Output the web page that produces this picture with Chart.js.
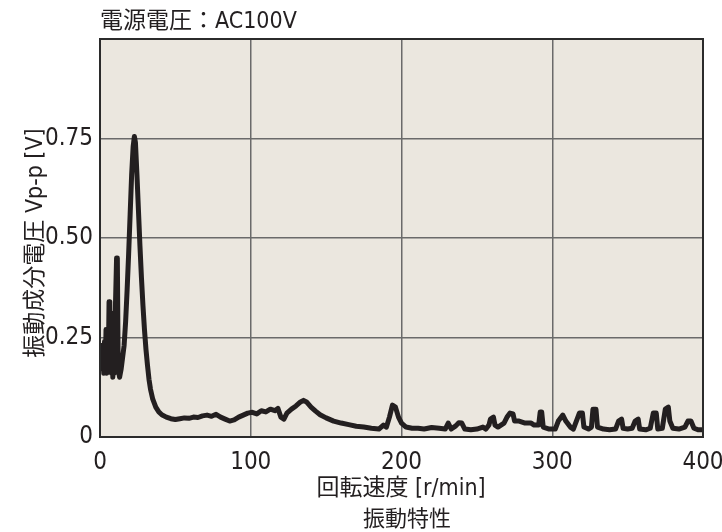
<!DOCTYPE html>
<html>
<head>
<meta charset="utf-8">
<script src="https://cdn.jsdelivr.net/npm/chart.js@4"></script>
<style>
  html, body { margin: 0; padding: 0; background: #fff; }
  #wrap { width: 722px; height: 532px; position: relative; }
</style>
</head>
<body>
<div id="wrap"><canvas id="c" width="722" height="532"></canvas></div>
<script>
// 回転速度 [r/min]
const speeds = [
  0.5, 1, 1.5, 2, 2.5, 3, 3.5, 4, 4.5, 5, 5.5, 6, 6.5, 7, 7.5, 8, 8.5, 9, 9.5, 10,
  11, 11.5, 12, 12.5, 13, 14, 15, 16, 17, 18, 19, 20, 21, 22, 22.8, 23.5, 24.5,
  25.5, 26.5, 27.5, 28.5, 29.5, 30.5, 31.5, 32.5, 33.5, 35, 37, 39, 41, 44, 47,
  50, 53, 56, 59, 62, 65, 68, 71, 74, 77, 80, 83, 86, 89, 92, 95, 98, 101, 104,
  107, 110, 113, 116, 118, 120, 122, 124, 127, 130, 133, 135, 137, 140, 143, 146,
  150, 155, 160, 165, 170, 175, 180, 185, 188, 190, 192, 194, 196, 198, 200, 203,
  207, 211, 215, 220, 225, 229, 231, 233, 236, 238, 240, 242, 246, 250, 254, 256,
  258, 259, 261, 262, 264, 268, 270, 272, 274, 275, 278, 282, 286, 288, 291, 292,
  293, 294, 298, 302, 304, 307, 309, 312, 314, 316, 318, 320, 321, 324, 326, 327,
  329, 330, 334, 338, 342, 344, 346, 347, 350, 353, 355, 357, 358, 362, 365, 367,
  369, 370, 373, 375, 377, 378, 380, 384, 388, 390, 392, 394, 397, 400
];
// 振動成分電圧 Vp-p [V]
const voltages = [
  0.19, 0.23, 0.17, 0.22, 0.16, 0.24, 0.17, 0.27, 0.16, 0.25, 0.18, 0.34, 0.17, 0.27, 0.16, 0.31, 0.15, 0.22, 0.16, 0.29,
  0.45, 0.45, 0.20, 0.16, 0.15, 0.17, 0.20, 0.23, 0.29, 0.37, 0.46, 0.56, 0.66, 0.73, 0.755, 0.74, 0.66,
  0.57, 0.48, 0.40, 0.33, 0.27, 0.22, 0.18, 0.145, 0.12, 0.095, 0.075, 0.063, 0.056, 0.050, 0.046,
  0.044, 0.046, 0.048, 0.047, 0.050, 0.049, 0.053, 0.055, 0.052, 0.057, 0.050, 0.045, 0.040, 0.043, 0.050, 0.055, 0.060, 0.062, 0.058,
  0.066, 0.063, 0.070, 0.066, 0.072, 0.050, 0.045, 0.060, 0.070, 0.078, 0.088, 0.092, 0.088, 0.075, 0.065, 0.056,
  0.048, 0.040, 0.035, 0.031, 0.027, 0.025, 0.022, 0.020, 0.030, 0.025, 0.050, 0.080, 0.075, 0.050, 0.035, 0.025,
  0.022, 0.022, 0.020, 0.024, 0.022, 0.020, 0.035, 0.020, 0.028, 0.036, 0.035, 0.020, 0.018, 0.020, 0.025, 0.020,
  0.030, 0.045, 0.050, 0.030, 0.025, 0.035, 0.050, 0.060, 0.058, 0.040, 0.040, 0.035, 0.035, 0.030, 0.030, 0.063,
  0.063, 0.025, 0.020, 0.020, 0.040, 0.055, 0.040, 0.025, 0.020, 0.040, 0.060, 0.060, 0.025, 0.020, 0.025, 0.070,
  0.070, 0.025, 0.020, 0.018, 0.020, 0.040, 0.045, 0.022, 0.020, 0.022, 0.040, 0.045, 0.020, 0.018, 0.022, 0.060,
  0.060, 0.020, 0.022, 0.070, 0.075, 0.040, 0.022, 0.020, 0.025, 0.040, 0.040, 0.022, 0.018, 0.018
];
const xTicks = [0, 100, 200, 300, 400];
const yTicks = [0, 0.25, 0.5, 0.75];

const topTitle = '電源電圧：AC100V';
const yTitle = '振動成分電圧 Vp-p [V]';
const xTitle = '回転速度 [r/min]';
const caption = '振動特性';

const FONT = "'Liberation Sans Narrow', 'DejaVu Sans Condensed', 'Liberation Sans', 'Noto Sans CJK JP', sans-serif";
const INK = '#231f20';

// 背景・枠・テキストは自前で描く
const decor = {
  id: 'decor',
  beforeDraw(chart) {
    const { ctx, chartArea: a } = chart;
    ctx.save();
    ctx.fillStyle = '#ebe7df';
    ctx.fillRect(a.left, a.top, a.right - a.left, a.bottom - a.top);
    ctx.restore();
  },
  afterDraw(chart) {
    const { ctx, chartArea: a } = chart;
    ctx.save();
    ctx.strokeStyle = '#2b2b2b';
    ctx.lineWidth = 2;
    ctx.strokeRect(a.left, a.top, a.right - a.left, a.bottom - a.top);

    ctx.fillStyle = INK;
    ctx.font = '23px ' + FONT;
    ctx.textAlign = 'left';
    ctx.textBaseline = 'alphabetic';
    ctx.fillText(topTitle, 100, 28);

    ctx.textAlign = 'center';
    ctx.textBaseline = 'middle';
    ctx.fillText(xTitle, 401, 489);

    ctx.font = '22px ' + FONT;
    ctx.fillText(caption, 407, 520);

    ctx.translate(36, 243);
    ctx.rotate(-Math.PI / 2);
    ctx.font = '23px ' + FONT;
    ctx.fillText(yTitle, 0, 0);
    ctx.restore();
  }
};

new Chart(document.getElementById('c'), {
  type: 'line',
  data: {
    datasets: [{
      data: speeds.map((s, i) => ({ x: s, y: voltages[i] })),
      borderColor: INK,
      borderWidth: 5,
      borderJoinStyle: 'round',
      borderCapStyle: 'round',
      pointRadius: 0,
      tension: 0,
      fill: false
    }]
  },
  options: {
    responsive: false,
    animation: false,
    layout: { padding: { top: 39, right: 19, left: 0, bottom: 0 } },
    plugins: { legend: { display: false }, tooltip: { enabled: false } },
    scales: {
      x: {
        type: 'linear',
        min: 0, max: 400,
        afterFit: s => { s.height = 95; s.paddingLeft = 0; s.paddingRight = 0; },
        afterBuildTicks: s => { s.ticks = xTicks.map(v => ({ value: v })); },
        grid: { color: '#6a6a6a', lineWidth: 1.5, drawTicks: false },
        border: { display: false },
        ticks: { color: INK, font: { family: FONT, size: 24 }, padding: 11, maxRotation: 0 }
      },
      y: {
        min: 0, max: 1,
        afterFit: s => { s.width = 100; s.paddingTop = 0; s.paddingBottom = 0; },
        afterBuildTicks: s => { s.ticks = yTicks.map(v => ({ value: v })); },
        grid: { color: '#6a6a6a', lineWidth: 1.5, drawTicks: false },
        border: { display: false },
        ticks: {
          color: INK, font: { family: FONT, size: 24 }, padding: 7,
          callback: v => v === 0 ? '0' : v.toFixed(2)
        }
      }
    }
  },
  plugins: [decor]
});
</script>
</body>
</html>
